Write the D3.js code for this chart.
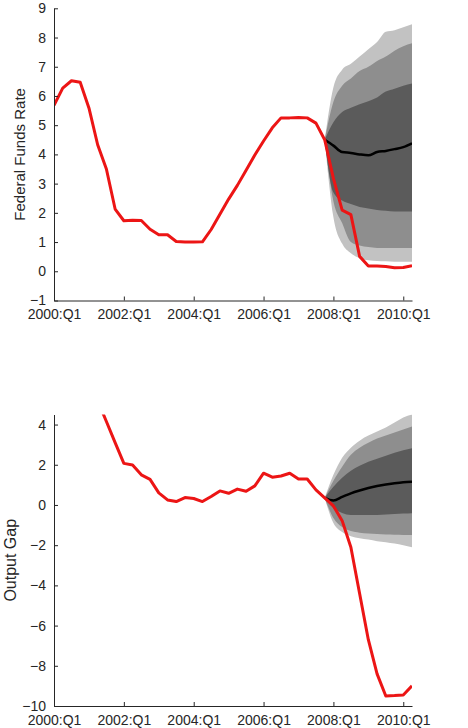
<!DOCTYPE html>
<html>
<head>
<meta charset="utf-8">
<script src="https://cdn.jsdelivr.net/npm/d3@7"></script>
<style>
  body { margin: 0; background: #fff; }
  text { font-family: "Liberation Sans", Arial, sans-serif; }
</style>
</head>
<body>
<div id="chart"></div>
<script>
// quarter index 0 = 2000:Q1
const tickQuarters = [0, 8, 16, 24, 32, 40]
const tickLabels = ["2000:Q1", "2002:Q1", "2004:Q1", "2006:Q1", "2008:Q1", "2010:Q1"]

// actual data
const fedFunds = [5.68, 6.27, 6.52, 6.47, 5.59, 4.33, 3.50, 2.13, 1.73, 1.75, 1.74, 1.44,
    1.25, 1.25, 1.02, 1.00, 1.00, 1.01, 1.43, 1.95, 2.47, 2.94, 3.46, 3.98, 4.46, 4.91,
    5.25, 5.25, 5.26, 5.25, 5.07, 4.50, 3.18, 2.09, 1.94, 0.51, 0.18, 0.18, 0.16, 0.12, 0.13, 0.19]
const gapStart = 5
const outputGap = [5.2, 4.15, 3.1, 2.07, 1.99, 1.5, 1.27, 0.6, 0.25, 0.17, 0.37, 0.32, 0.17,
    0.42, 0.7, 0.58, 0.79, 0.68, 0.95, 1.58, 1.38, 1.44, 1.58, 1.29, 1.29, 0.75, 0.35,
    -0.05, -0.78, -2.1, -4.4, -6.7, -8.4, -9.5, -9.48, -9.45, -9.0]

// forecast fan, quarters 31..41
const fanStart = 31
const ffMedian  = [4.5, 4.3, 4.08, 4.05, 4.0, 3.97, 4.08, 4.12, 4.18, 4.25, 4.38]
const ffInnerLo = [4.5, 2.7, 2.42, 2.3, 2.2, 2.15, 2.1, 2.07, 2.05, 2.05, 2.05]
const ffInnerHi = [4.5, 5.1, 5.45, 5.6, 5.72, 5.82, 5.95, 6.15, 6.25, 6.35, 6.43]
const ffMidLo   = [4.5, 2.4, 1.65, 1.0, 0.88, 0.83, 0.8, 0.8, 0.8, 0.8, 0.8]
const ffMidHi   = [4.5, 5.8, 6.35, 6.6, 6.85, 7.0, 7.2, 7.35, 7.55, 7.7, 7.8]
const ffOuterLo = [4.5, 1.85, 0.95, 0.62, 0.45, 0.38, 0.35, 0.34, 0.33, 0.33, 0.33]
const ffOuterHi = [4.5, 6.3, 6.9, 7.1, 7.35, 7.6, 7.85, 8.2, 8.25, 8.35, 8.45]

const ogMedian  = [0.35, 0.22, 0.4, 0.58, 0.72, 0.84, 0.94, 1.02, 1.08, 1.13, 1.16]
const ogInnerLo = [0.35, -0.15, -0.4, -0.5, -0.5, -0.5, -0.5, -0.48, -0.45, -0.43, -0.41]
const ogInnerHi = [0.35, 0.9, 1.35, 1.7, 1.95, 2.15, 2.3, 2.45, 2.6, 2.72, 2.82]
const ogMidLo   = [0.35, -0.65, -1.1, -1.3, -1.38, -1.42, -1.45, -1.47, -1.48, -1.49, -1.49]
const ogMidHi   = [0.35, 1.2, 1.9, 2.5, 2.85, 3.1, 3.3, 3.45, 3.6, 3.75, 3.9]
const ogOuterLo = [0.35, -0.9, -1.35, -1.55, -1.65, -1.72, -1.8, -1.85, -1.92, -2.0, -2.1]
const ogOuterHi = [0.35, 1.5, 2.35, 2.85, 3.2, 3.45, 3.65, 3.85, 4.1, 4.35, 4.5]

const width = 468, height = 728

const svg = d3.select("#chart")
    .append("svg")
    .attr("width", width)
    .attr("height", height)

const x = d3.scaleLinear().domain([0, 41]).range([54, 412])

function panel(id, yDomain, yRange, yTicks, label, actual, start, fan) {

    const y = d3.scaleLinear().domain(yDomain).range(yRange)

    svg.append("clipPath")
        .attr("id", id)
        .append("rect")
        .attr("x", x(0))
        .attr("y", yRange[1])
        .attr("width", x(41) - x(0))
        .attr("height", yRange[0] - yRange[1])

    const g = svg.append("g").attr("clip-path", `url(#${id})`)

    const bands = [
        [fan.outerLo, fan.outerHi, "#c2c2c2"],
        [fan.midLo, fan.midHi, "#8e8e8e"],
        [fan.innerLo, fan.innerHi, "#5b5b5b"]
    ]

    bands.forEach(function(b) {
        const area = d3.area()
            .x(function(d, i) { return x(fanStart + i) })
            .y0(function(d, i) { return y(b[0][i]) })
            .y1(function(d, i) { return y(b[1][i]) })
            .curve(d3.curveMonotoneX)
        g.append("path")
            .datum(b[0])
            .attr("d", area)
            .style("fill", b[2])
    })

    g.append("path")
        .datum(fan.median)
        .attr("d", d3.line()
            .x(function(d, i) { return x(fanStart + i) })
            .y(function(d) { return y(d) })
            .curve(d3.curveMonotoneX))
        .style("fill", "none")
        .style("stroke", "black")
        .style("stroke-width", 2.5)

    g.append("path")
        .datum(actual)
        .attr("d", d3.line()
            .x(function(d, i) { return x(start + i) })
            .y(function(d) { return y(d) }))
        .style("fill", "none")
        .style("stroke", "#ec1515")
        .style("stroke-width", 3)
        .style("stroke-linejoin", "round")

    // axes, ticks inside
    const xAxis = svg.append("g")
        .attr("transform", `translate(0, ${yRange[0]})`)
        .call(d3.axisBottom(x)
            .tickValues(tickQuarters)
            .tickFormat(function(d, i) { return tickLabels[i] })
            .tickSizeInner(-4)
            .tickSizeOuter(0)
            .tickPadding(9))
    const yAxis = svg.append("g")
        .attr("transform", `translate(${x(0)}, 0)`)
        .call(d3.axisLeft(y)
            .tickValues(yTicks)
            .tickSizeInner(-4)
            .tickSizeOuter(0)
            .tickPadding(8))

    ;[xAxis, yAxis].forEach(function(a) {
        a.selectAll("text")
            .style("font-size", "14px")
            .style("font-family", "'Liberation Sans', Arial, sans-serif")
            .attr("fill", "#262626")
        a.selectAll("line").attr("stroke", "#262626")
        a.select(".domain").attr("stroke", "#262626")
    })

    svg.append("text")
        .attr("transform", `translate(${label.x}, ${(yRange[0] + yRange[1]) / 2}) rotate(-90)`)
        .text(label.text)
        .attr("font-size", label.size)
        .attr("fill", "#262626")
        .style("text-anchor", "middle")
}

panel("clipTop", [-1, 9], [300.5, 8.3], d3.range(-1, 10), {text: "Federal Funds Rate", x: 25, size: "15px"},
    fedFunds, 0,
    {median: ffMedian, innerLo: ffInnerLo, innerHi: ffInnerHi, midLo: ffMidLo, midHi: ffMidHi,
        outerLo: ffOuterLo, outerHi: ffOuterHi})

panel("clipBottom", [-10, 4.5], [706, 414.5], d3.range(-10, 5, 2), {text: "Output Gap", x: 16, size: "16px"},
    outputGap, gapStart,
    {median: ogMedian, innerLo: ogInnerLo, innerHi: ogInnerHi, midLo: ogMidLo, midHi: ogMidHi,
        outerLo: ogOuterLo, outerHi: ogOuterHi})
</script>
</body>
</html>
